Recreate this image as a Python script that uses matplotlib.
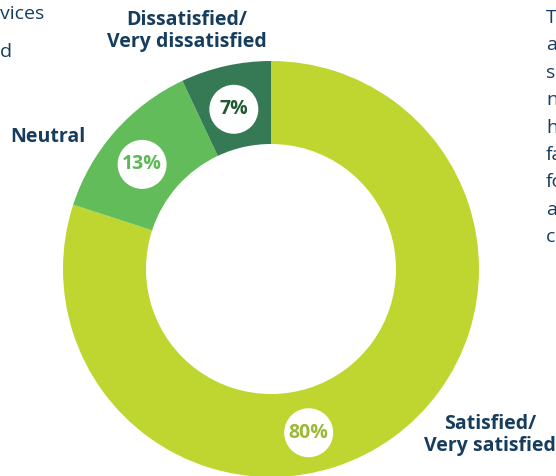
import matplotlib
matplotlib.use("Agg")
import matplotlib.pyplot as plt
import numpy as np
from matplotlib.patches import Circle

categories = ["Satisfied/\nVery satisfied", "Neutral", "Dissatisfied/\nVery dissatisfied"]
values = [80, 13, 7]
pct_labels = ["80%", "13%", "7%"]
left_fragments = ["vices", "d"]
right_fragments = ["T", "a", "s", "n", "h", "fa", "fo", "a", "c"]

colors = ["#BED62F", "#63BC5A", "#357955"]
pct_colors = ["#9DB834", "#5DB954", "#1F5A30"]
navy = "#173D5E"
FONT = "Open Sans"

W, H = 556, 476
fig = plt.figure(figsize=(W / 100, H / 100), dpi=100)
ax = fig.add_axes([0, 0, 1, 1])

cx, cy = 271, H - 269
R, r_in = 208, 125
ax.pie(values, colors=colors, startangle=90, counterclock=False,
       radius=R, center=(cx, cy), frame=True,
       wedgeprops=dict(width=R - r_in, linewidth=0))
ax.set_xlim(0, W)
ax.set_ylim(0, H)
ax.set_aspect("equal")
ax.axis("off")

# percentage badges
label_frac = [0.58, 0.45, 0.48]
label_rad = [168, 166, 164]
total = sum(values)
start = 90.0
for v, f, rr, t, c in zip(values, label_frac, label_rad, pct_labels, pct_colors):
    span = 360.0 * v / total
    ang = np.deg2rad(start - span * f)
    x, y = cx + rr * np.cos(ang), cy + rr * np.sin(ang)
    ax.add_patch(Circle((x, y), 24.5, facecolor="white", edgecolor="none", zorder=3))
    ax.text(x, y, t, ha="center", va="center", color=c, fontsize=14,
            fontweight="bold", family=FONT, zorder=4)
    start -= span

# category labels
ax.text(490, H - 435, categories[0], ha="center", va="center", color=navy,
        fontsize=14, fontweight="bold", family=FONT, linespacing=1.1)
ax.text(48, H - 137, categories[1], ha="center", va="center", color=navy,
        fontsize=14, fontweight="bold", family=FONT)
ax.text(187, H - 31, categories[2], ha="center", va="center", color=navy,
        fontsize=14, fontweight="bold", family=FONT, linespacing=1.1)

# surrounding body-text fragments
for i, t in enumerate(left_fragments):
    ax.text(0, H - (14 + 38 * i), t, ha="left", va="center", color=navy,
            fontsize=14, family=FONT)
for i, t in enumerate(right_fragments):
    ax.text(546, H - (18 + 27.4 * i), t, ha="left", va="center", color=navy,
            fontsize=14, family=FONT)

fig.savefig("out.png", dpi=100)
